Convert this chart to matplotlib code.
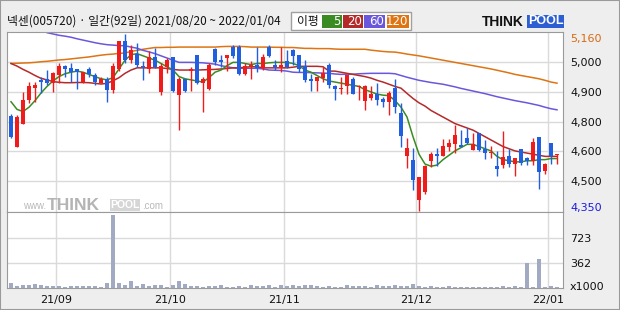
import numpy as np
import matplotlib
matplotlib.use("Agg")
import matplotlib.pyplot as plt
from matplotlib.patches import Rectangle

# ---- data ----
title = "넥센(005720) · 일간(92일) 2021/08/20 ~ 2022/01/04"
month_labels = ["21/09", "21/10", "21/11", "21/12", "22/01"]
month_start = [8, 27, 46, 68, 90]   # index of first trading day in month

opens = [4785, 4645, 4750, 4860, 4915, 4950, 4955, 4935, 4970, 5015,
         5005, 5000, 4940, 5000, 4970, 4935, 4955, 4905, 5000, 5130,
         5040, 5070, 5015, 5000, 5055, 4895, 5010, 5055, 4880, 4955,
         4990, 5065, 4935, 4910, 5090, 5040, 5050, 5100, 5100, 4975,
         5010, 5020, 5005, 5100, 5020, 5010, 5035, 5085, 5065, 5015,
         4955, 4945, 4960, 5020, 4920, 4910, 4920, 4955, 4918, 4855,
         4865, 4885, 4862, 4850, 4915, 4800, 4600, 4583, 4400, 4435,
         4580, 4612, 4602, 4645, 4656, 4650, 4684, 4630, 4705, 4634,
         4614, 4557, 4560, 4602, 4565, 4634, 4594, 4580, 4688, 4535,
         4660, 4605]
highs = [4792, 4790, 4895, 4940, 4940, 4965, 4995, 4985, 5025, 5020,
         5025, 5000, 4985, 5010, 4980, 4965, 4965, 5025, 5130, 5160,
         5110, 5120, 5035, 5080, 5095, 5025, 5050, 5055, 4965, 4955,
         5010, 5065, 4965, 5025, 5095, 5065, 5065, 5110, 5110, 5025,
         5035, 5100, 5070, 5110, 5040, 5100, 5085, 5090, 5065, 5040,
         4975, 4965, 5010, 5025, 4925, 4965, 4972, 4965, 4925, 4925,
         4920, 4935, 4873, 4900, 4952, 4845, 4683, 4637, 4507, 4560,
         4620, 4637, 4678, 4678, 4743, 4720, 4728, 4708, 4708, 4675,
         4647, 4626, 4716, 4634, 4594, 4634, 4599, 4685, 4688, 4571,
         4660, 4611]
lows = [4685, 4645, 4750, 4845, 4850, 4890, 4925, 4895, 4935, 4965,
        4940, 4910, 4935, 4965, 4925, 4935, 4850, 4890, 4990, 5025,
        5025, 5010, 4950, 4980, 5005, 4880, 4980, 4895, 4720, 4895,
        4900, 4930, 4805, 4905, 5020, 5010, 4990, 5050, 4970, 4970,
        4955, 4985, 4995, 5055, 4995, 4985, 5005, 5020, 4985, 4940,
        4900, 4900, 4940, 4915, 4860, 4885, 4885, 4885, 4858, 4810,
        4860, 4835, 4827, 4790, 4800, 4645, 4545, 4445, 4350, 4430,
        4550, 4556, 4600, 4626, 4617, 4644, 4656, 4630, 4626, 4586,
        4591, 4512, 4548, 4550, 4512, 4560, 4560, 4560, 4451, 4518,
        4565, 4565]
closes = [4690, 4780, 4860, 4920, 4925, 4940, 4935, 4980, 5015, 5000,
          4985, 4985, 4985, 4975, 4940, 4955, 4905, 5015, 5130, 5040,
          5085, 5020, 5010, 5055, 5010, 5015, 5040, 4900, 4955, 4900,
          4998, 4935, 4955, 5020, 5030, 5030, 5065, 5060, 4975, 5015,
          5020, 5005, 5055, 5060, 5010, 5020, 5010, 5060, 5000, 4950,
          4945, 4965, 4980, 4925, 4910, 4913, 4970, 4885, 4922, 4920,
          4885, 4860, 4850, 4890, 4825, 4693, 4640, 4490, 4507, 4555,
          4610, 4603, 4647, 4663, 4698, 4644, 4660, 4656, 4630, 4614,
          4617, 4544, 4599, 4565, 4594, 4571, 4580, 4667, 4530, 4565,
          4600, 4610]
# volume in thousands of shares
volumes = [77, 29, 48, 48, 63, 48, 29, 29, 29, 14,
           29, 29, 29, 29, 29, 14, 77, 1054, 77, 48,
           101, 29, 63, 29, 48, 48, 14, 48, 101, 63,
           29, 29, 14, 29, 29, 48, 14, 14, 29, 14,
           48, 29, 29, 48, 14, 48, 29, 48, 29, 48,
           48, 29, 14, 29, 14, 14, 48, 29, 29, 29,
           14, 48, 29, 29, 48, 29, 29, 63, 29, 14,
           29, 14, 14, 29, 14, 14, 14, 14, 14, 14,
           14, 14, 29, 14, 29, 14, 361, 14, 419, 14,
           29, 14]

ma5 = [4850, 4815, 4805, 4825, 4855, 4890, 4920, 4945, 4965, 4978,
       4985, 4990, 4985, 4975, 4965, 4955, 4950, 4960, 5000, 5040,
       5065, 5070, 5060, 5050, 5040, 5025, 5010, 4995, 4965, 4955,
       4950, 4945, 4940, 4960, 4985, 4995, 5015, 5030, 5030, 5025,
       5020, 5025, 5025, 5028, 5030, 5030, 5030, 5025, 5015, 4995,
       4985, 4970, 4955, 4945, 4940, 4935, 4930, 4925, 4920, 4905,
       4895, 4885, 4880, 4878, 4855, 4825, 4780, 4690, 4610, 4565,
       4555, 4560, 4585, 4605, 4625, 4640, 4655, 4655, 4645, 4635,
       4625, 4600, 4585, 4580, 4575, 4575, 4580, 4580, 4585, 4585,
       4590, 4590]
ma20 = [5025, 5013, 4998, 4985, 4970, 4957, 4950, 4942, 4939, 4937,
        4937, 4938, 4938, 4937, 4934, 4931, 4934, 4946, 4960, 4980,
        4995, 5005, 5005, 5005, 5005, 5005, 5002, 4998, 4995, 4995,
        4995, 4995, 4996, 4997, 4998, 5000, 5002, 5005, 5005, 5008,
        5010, 5010, 5005, 5005, 5005, 5005, 5005, 5008, 5012, 5012,
        5012, 5012, 5010, 4990, 4990, 4985, 4980, 4975, 4970, 4965,
        4958, 4948, 4940, 4930, 4920, 4912, 4888, 4865, 4845, 4830,
        4810, 4795, 4780, 4765, 4750, 4740, 4730, 4720, 4705, 4690,
        4675, 4660, 4645, 4635, 4625, 4620, 4615, 4610, 4605, 4600,
        4600, 4600]
ma60_start = 5
ma60 = [5180, 5166, 5160, 5154, 5150,
        5145, 5138, 5132, 5126, 5120, 5115, 5111, 5109, 5107, 5106,
        5100, 5095, 5085, 5078, 5070, 5060, 5050, 5040, 5030, 5030,
        5030, 5029, 5028, 5025, 5022, 5015, 5010, 5005, 5003, 5003,
        5003, 5003, 5000, 4995, 4994, 4993, 4990, 4985, 4984, 4984,
        4983, 4982, 4981, 4980, 4977, 4975, 4976, 4976, 4978, 4979,
        4980, 4980, 4980, 4980, 4978, 4970, 4962, 4955, 4948, 4943,
        4938, 4934, 4930, 4924, 4918, 4911, 4905, 4899, 4893, 4887,
        4880, 4873, 4867, 4861, 4855, 4850, 4845, 4839, 4833, 4825,
        4818, 4813]
ma120 = [5025, 5026, 5027, 5028, 5030, 5033, 5035, 5038, 5041, 5043,
         5046, 5049, 5052, 5055, 5059, 5063, 5066, 5068, 5071, 5073,
         5080, 5085, 5090, 5094, 5098, 5098, 5099, 5099, 5100, 5100,
         5100, 5100, 5100, 5100, 5100, 5102, 5103, 5103, 5103, 5102,
         5100, 5100, 5100, 5100, 5099, 5099, 5098, 5098, 5096, 5094,
         5094, 5093, 5093, 5093, 5091, 5090, 5090, 5090, 5090, 5090,
         5086, 5083, 5080, 5078, 5077, 5073, 5068, 5064, 5060, 5055,
         5050, 5045, 5040, 5035, 5030, 5025, 5020, 5015, 5010, 5005,
         5000, 4994, 4988, 4982, 4975, 4970, 4965, 4960, 4955, 4948,
         4940, 4935]

price_ticks = [5143, 5032, 4895, 4757, 4625, 4487, 4368]
price_labels = ["5,160", "5,000", "4,900", "4,800", "4,600", "4,500", "4,350"]
vol_ticks = [36, 362, 723]
vol_labels = ["x1000", "362", "723"]

# ---- style ----
RED = "#f01c1c"
BLUE = "#1f5fe0"
C5, C20, C60, C120 = "#3a8c22", "#b42a2a", "#6a58dc", "#de7412"
GRID = "#dadada"
BG = "#eeeeee"
W, H = 620, 310

def fx(px):
    return px / W

def fy(py):
    return 1 - py / H

fig = plt.figure(figsize=(6.2, 3.1), dpi=100, facecolor=BG)
ax = fig.add_axes([fx(7), fy(212), fx(563) - fx(7), fy(32) - fy(212)])
axv = fig.add_axes([fx(7), fy(288), fx(563) - fx(7), fy(212) - fy(288)], sharex=ax)

x = np.arange(len(closes))
o = np.array(opens); c = np.array(closes)
colors = np.where(c >= o, RED, BLUE)

# grid
for a in (ax, axv):
    for m in month_start:
        a.axvline(m - 0.5, color=GRID, lw=1, zorder=0)
for t in price_ticks[1:-1]:
    ax.axhline(t, color=GRID, lw=1, zorder=0)
for t in vol_ticks[1:]:
    axv.axhline(t, color=GRID, lw=1, zorder=0)

# moving averages
ax.plot(x, ma120, color=C120, lw=1.1, zorder=2)
ax.plot(x[ma60_start:], ma60, color=C60, lw=1.1, zorder=2)
ax.plot(x, ma20, color=C20, lw=1.1, zorder=2)
ax.plot(x, ma5, color=C5, lw=1.1, zorder=2)

# candles
ax.vlines(x, lows, highs, colors=colors, lw=1, zorder=3)
ax.bar(x, np.maximum(np.abs(c - o), 4), 0.8, bottom=np.minimum(o, c),
       color=colors, lw=0, zorder=4)

# volume
axv.bar(x, volumes, 0.8, color="#a2aac3", lw=0, zorder=2)

ax.set_xlim(-0.67, 92.0)
ax.set_ylim(4345.5, 5169)
axv.set_ylim(0, 1097)

for a in (ax, axv):
    a.set_facecolor("white")
    for s in a.spines.values():
        s.set_color("#9a9a9a")
    a.yaxis.tick_right()
    a.tick_params(axis="y", length=0, pad=5, labelsize=8, labelcolor="#111111")

ax.set_yticks(price_ticks, price_labels)
ax.get_yticklabels()[0].set_color("#d86a10")
ax.get_yticklabels()[-1].set_color("#1a1ae0")
ax.tick_params(axis="x", length=0, labelbottom=False)
axv.set_yticks(vol_ticks, vol_labels)
axv.set_xticks([m - 0.5 for m in month_start], month_labels)
axv.tick_params(axis="x", length=0, pad=5, labelsize=8, labelcolor="#111111")

# header
kr = ["Noto Sans CJK KR", "DejaVu Sans"]
fig.text(fx(7), fy(21), title, fontsize=8.5, va="center", family=kr, color="#111111")

fig.patches.append(Rectangle((fx(291), fy(30)), fx(411) - fx(291), fy(12) - fy(30),
                             transform=fig.transFigure, facecolor="white",
                             edgecolor="#a0a0a0", lw=1))
fig.text(fx(297), fy(21), "이평", fontsize=8.5, va="center", family=kr, color="#111111")
for (x0, x1), col, lab in zip([(322, 342), (343, 363), (364, 385), (387, 409)],
                              [C5, C20, C60, C120], ["5", "20", "60", "120"]):
    fig.patches.append(Rectangle((fx(x0), fy(28)), fx(x1) - fx(x0), fy(15) - fy(28),
                                 transform=fig.transFigure, facecolor=col, lw=0))
    fig.text(fx(x1 - 1), fy(21.5), lab, fontsize=8.5, va="center", ha="right",
             color="white")

# logo
fig.text(fx(482), fy(21.5), "THINK", fontsize=10, fontweight="bold", va="center",
         family="Liberation Sans", color="#111111")
fig.patches.append(Rectangle((fx(527), fy(28)), fx(564) - fx(527), fy(15) - fy(28),
                             transform=fig.transFigure, facecolor="#2d5fd3", lw=0))
fig.text(fx(545.5), fy(21.5), "POOL", fontsize=9, fontweight="bold", va="center",
         ha="center", family="Liberation Sans", color="white")

# watermark
fig.text(fx(46), fy(206), "www.", fontsize=7, va="center", ha="right",
         color="#b8b8b8", family="Liberation Sans", zorder=5)
fig.text(fx(47), fy(205), "THINK", fontsize=12.5, fontweight="bold", va="center",
         color="#b4b4b4", family="Liberation Sans", zorder=5)
fig.patches.append(Rectangle((fx(110), fy(211)), fx(140) - fx(110), fy(199) - fy(211),
                             transform=fig.transFigure, facecolor="#d6d6d6", lw=0, zorder=5))
fig.text(fx(125), fy(205.5), "POOL", fontsize=7.5, fontweight="bold", va="center",
         ha="center", color="white", family="Liberation Sans", zorder=6)
fig.text(fx(142), fy(206), ".com", fontsize=7, va="center", color="#b8b8b8",
         family="Liberation Sans", zorder=5)

# outer frame
fig.patches.append(Rectangle((0, 0), 1, 1, transform=fig.transFigure, fill=False,
                             edgecolor="#9a9a9a", lw=1.5))

fig.savefig("out.png", dpi=100, facecolor=BG)
